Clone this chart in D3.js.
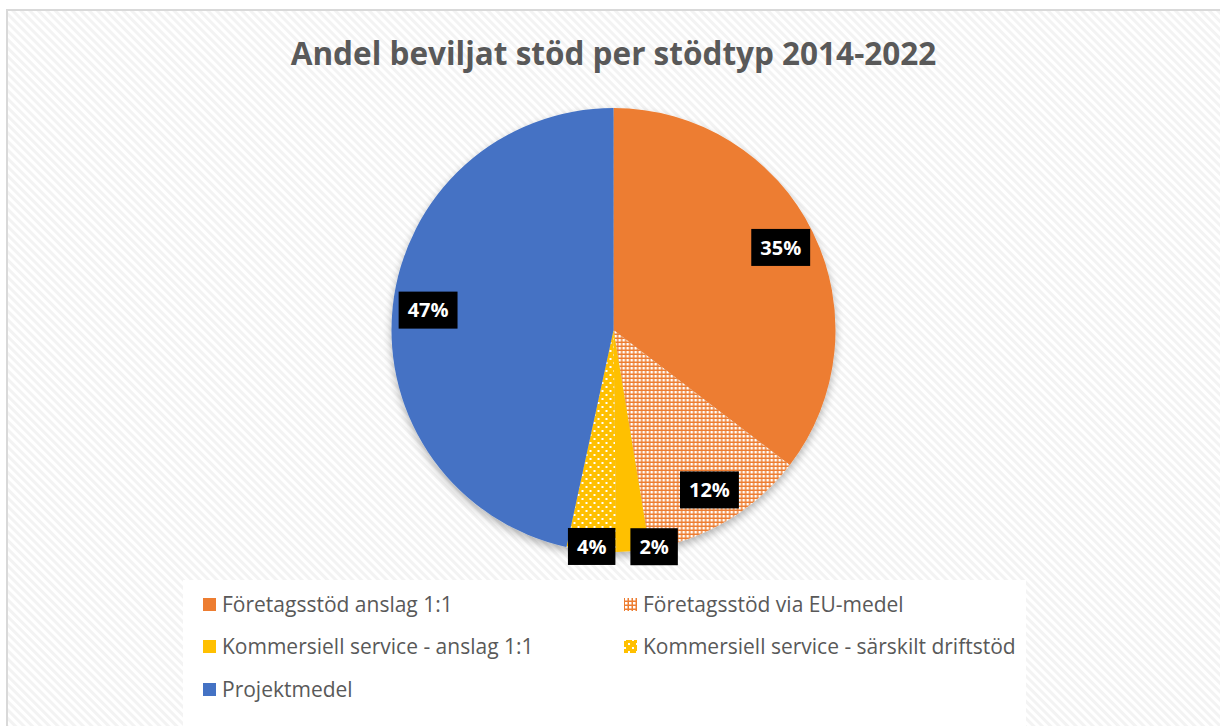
<!DOCTYPE html>
<html>
<head>
<meta charset="utf-8">
<script src="https://cdn.jsdelivr.net/npm/d3@7"></script>
<style>
  body { margin: 0; background: #fff; }
  svg { display: block; }
</style>
</head>
<body>
<div id="chart"></div>
<script>
// Data
const categories = [
    "Företagsstöd anslag 1:1",
    "Företagsstöd via EU-medel",
    "Kommersiell service - anslag 1:1",
    "Kommersiell service - särskilt driftstöd",
    "Projektmedel"
];
const values = [35.4, 12.0, 2.4, 3.6, 46.6];
const title = "Andel beviljat stöd per stödtyp 2014-2022";

// Dimensions
const width = 1220, height = 726;
const cx = 613.5, cy = 330, radius = 222;

const svg = d3.select("#chart")
              .append("svg")
              .attr("width", width)
              .attr("height", height);

const defs = svg.append("defs");

// Background diagonal stripes
const bg = defs.append("pattern")
               .attr("id", "bgStripes")
               .attr("patternUnits", "userSpaceOnUse")
               .attr("width", 6).attr("height", 6)
               .attr("patternTransform", "rotate(-45)");
bg.append("rect").attr("width", 6).attr("height", 6).attr("fill", "#ffffff");
bg.append("rect").attr("width", 3).attr("height", 6).attr("fill", "#f3f3f3");

// Orange grid pattern (EU-medel)
const pOrange = defs.append("pattern")
                    .attr("id", "orangeGrid")
                    .attr("patternUnits", "userSpaceOnUse")
                    .attr("width", 4).attr("height", 4);
pOrange.append("rect").attr("width", 4).attr("height", 4).attr("fill", "#ED7D31");
pOrange.append("rect").attr("x", 1).attr("y", 1).attr("width", 2.5).attr("height", 2.5).attr("fill", "#ffffff");

// Yellow dotted pattern (särskilt driftstöd)
const pYellow = defs.append("pattern")
                    .attr("id", "yellowDots")
                    .attr("patternUnits", "userSpaceOnUse")
                    .attr("width", 8).attr("height", 8);
pYellow.append("rect").attr("width", 8).attr("height", 8).attr("fill", "#FFC000");
pYellow.append("rect").attr("x", 0).attr("y", 0).attr("width", 2).attr("height", 2).attr("fill", "#ffffff");
pYellow.append("rect").attr("x", 4).attr("y", 4).attr("width", 2).attr("height", 2).attr("fill", "#ffffff");

// Soft shadow under the pie
const shadow = defs.append("filter")
                   .attr("id", "pieShadow")
                   .attr("x", "-20%").attr("y", "-20%")
                   .attr("width", "140%").attr("height", "140%");
shadow.append("feGaussianBlur").attr("in", "SourceAlpha").attr("stdDeviation", 4);
shadow.append("feOffset").attr("dx", 0).attr("dy", 4).attr("result", "off");
shadow.append("feComponentTransfer").append("feFuncA").attr("type", "linear").attr("slope", 0.3);
const merge = shadow.append("feMerge");
merge.append("feMergeNode");
merge.append("feMergeNode").attr("in", "SourceGraphic");

const fills = ["#ED7D31", "url(#orangeGrid)", "#FFC000", "url(#yellowDots)", "#4472C4"];
const color = d3.scaleOrdinal().domain(categories).range(fills);

// Background + chart border
svg.append("rect").attr("width", width).attr("height", height).attr("fill", "#fff");
svg.append("rect")
   .attr("x", 7).attr("y", 10)
   .attr("width", width + 20).attr("height", height + 20)
   .attr("fill", "url(#bgStripes)")
   .attr("stroke", "#d9d9d9")
   .attr("stroke-width", 2);

// Title
svg.append("text")
   .attr("x", cx)
   .attr("y", 65)
   .attr("text-anchor", "middle")
   .style("font-family", "'Open Sans', sans-serif")
   .style("font-weight", "bold")
   .style("font-size", "31.5px")
   .style("fill", "#595959")
   .text(title);

// Pie
const pie = d3.pie().sort(null).value(d => d.value);
const arc = d3.arc().innerRadius(0).outerRadius(radius);
const data = categories.map((c, i) => ({ name: c, value: values[i] }));
const arcs = pie(data);

const g = svg.append("g").attr("transform", `translate(${cx},${cy})`);
const slices = g.append("g").attr("filter", "url(#pieShadow)");
slices.selectAll("path")
      .data(arcs)
      .join("path")
      .attr("d", arc)
      .attr("fill", d => color(d.data.name));

// Data labels
const total = d3.sum(values);
const fmt = v => Math.round(v / total * 100) + "%";
const labelG = g.append("g");
const placed = [];
arcs.forEach(d => {
    const share = d.data.value / total;
    const lr = share > 0.1 ? radius * 0.84 : radius * 0.98;
    const a = (d.startAngle + d.endAngle) / 2;
    placed.push({ x: Math.sin(a) * lr, y: -Math.cos(a) * lr, text: fmt(d.data.value) });
});

labelG.selectAll("g")
      .data(placed)
      .join("g")
      .each(function(d) {
          const t = d3.select(this).append("text")
                       .attr("text-anchor", "middle")
                       .attr("dy", "0.36em")
                       .style("font-family", "'Open Sans', sans-serif")
                       .style("font-weight", "bold")
                       .style("font-size", "20px")
                       .style("fill", "#fff")
                       .text(d.text);
          d.w = t.node().getComputedTextLength() + 18;
          d.h = 37;
      });

// simple overlap fix: push later labels to the right
for (let i = 0; i < placed.length; i++) {
    for (let j = 0; j < i; j++) {
        const p = placed[i], q = placed[j];
        if (Math.abs(p.y - q.y) < (p.h + q.h) / 2 && Math.abs(p.x - q.x) < (p.w + q.w) / 2) {
            if (p.x >= q.x) p.x = q.x + (p.w + q.w) / 2 + 15;
            else q.x = p.x + (p.w + q.w) / 2 + 15;
        }
    }
}

labelG.selectAll("g")
      .attr("transform", d => `translate(${d.x},${d.y})`)
      .insert("rect", "text")
      .attr("x", d => -d.w / 2)
      .attr("y", d => -d.h / 2)
      .attr("width", d => d.w)
      .attr("height", d => d.h)
      .attr("fill", "#000");

// Legend
svg.append("rect")
   .attr("x", 183).attr("y", 580)
   .attr("width", 843).attr("height", 160)
   .attr("fill", "#fff");

const legendCols = [203, 624];
const legendRows = [605, 647, 690];
const legend = svg.append("g")
                  .selectAll("g")
                  .data(categories)
                  .join("g")
                  .attr("transform", (d, i) => `translate(${legendCols[i % 2]},${legendRows[Math.floor(i / 2)]})`);

legend.append("rect")
      .attr("x", 0).attr("y", -7)
      .attr("width", 13).attr("height", 13)
      .attr("fill", d => color(d));

legend.append("text")
      .attr("x", 19)
      .attr("dy", "0.35em")
      .style("font-family", "'Open Sans', sans-serif")
      .style("font-size", "21px")
      .style("fill", "#595959")
      .text(d => d);
</script>
</body>
</html>
